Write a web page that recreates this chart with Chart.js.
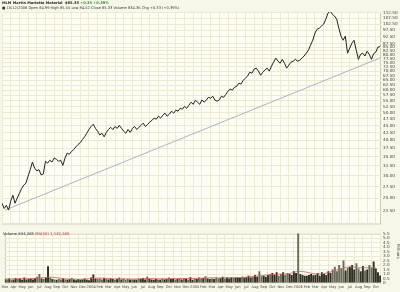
<!DOCTYPE html>
<html>
<head>
<meta charset="utf-8">
<script src="https://cdn.jsdelivr.net/npm/chart.js@4.4.0/dist/chart.umd.min.js"></script>
<style>
  body { margin: 0; width: 400px; height: 292px; overflow: hidden; position: relative;
         background: #f7f7e9; font-family: "DejaVu Sans", sans-serif; }
  canvas { position: absolute; left: 0; }
  #price { top: 0; }
  #volume { top: 229px; }
  .txt { position: absolute; white-space: nowrap; font-size: 3.6px; color: #222; }
  .up { color: #1f9a1f; }
  .red { color: #c03030; }
</style>
</head>
<body>
<canvas id="price" width="400" height="229"></canvas>
<canvas id="volume" width="400" height="63"></canvas>
<div class="txt" style="left:2px;top:1px;font-weight:bold">MLM Martin Marietta Material &nbsp;$85.33 <span class="up">+0.33 +0.39%</span></div>
<div class="txt" style="left:2px;top:6px;color:#333">&#9632; 10/12/2006 Open 84.99 High 85.55 Low 84.52 Close 85.33 Volume 834.3K Chg +0.33 (+0.39%)</div>
<div class="txt" style="left:3px;top:231px;font-size:3.8px">Volume 834,265 <span class="red">MA(50) 1,142,280</span></div>
<script>
// Month labels, Mar 2003 .. Oct 2006 (Jan shown as year)
const monthLabels = ['Mar','Apr','May','Jun','Jul','Aug','Sep','Oct','Nov','Dec',
  '2004','Feb','Mar','Apr','May','Jun','Jul','Aug','Sep','Oct','Nov','Dec',
  '2005','Feb','Mar','Apr','May','Jun','Jul','Aug','Sep','Oct','Nov','Dec',
  '2006','Feb','Mar','Apr','May','Jun','Jul','Aug','Sep','Oct'];

// Weekly closes (4 per month, starting Mar 2003)
const closes = [
  24.0, 23.0, 23.6, 22.7, 24.4, 25.6, 24.0, 25.0, 26.0, 27.0,
  27.8, 28.2, 29.9, 31.5, 33.5, 31.9, 31.2, 31.5, 30.2, 30.4,
  33.7, 33.2, 34.0, 33.5, 34.6, 34.3, 33.7, 34.0, 32.6, 34.6,
  36.0, 35.7, 36.5, 37.1, 37.9, 38.6, 39.2, 40.2, 41.1, 42.3,
  43.6, 44.7, 45.5, 44.0, 43.0, 41.7, 42.3, 41.1, 42.6, 43.6,
  44.4, 43.6, 44.7, 44.0, 45.1, 44.0, 43.0, 42.3, 43.6, 42.6,
  44.0, 44.7, 43.6, 44.4, 45.1, 45.9, 44.7, 45.5, 46.3, 47.0,
  47.8, 47.4, 48.6, 47.8, 49.0, 49.8, 48.6, 49.4, 50.6, 49.8,
  51.0, 50.6, 51.8, 51.4, 52.6, 51.8, 53.1, 54.4, 53.5, 55.3,
  54.4, 53.5, 55.4, 54.4, 55.3, 56.6, 56.2, 57.1, 55.3, 54.9,
  55.4, 57.1, 56.6, 58.0, 59.5, 60.5, 60.0, 61.4, 61.9, 63.5,
  63.0, 65.0, 66.1, 67.2, 69.4, 68.8, 71.1, 71.7, 70.0, 67.7,
  69.4, 70.6, 71.7, 70.0, 72.9, 75.3, 77.7, 75.9, 74.6, 77.0,
  74.6, 71.7, 73.5, 75.3, 75.9, 77.0, 75.9, 76.4, 77.7, 79.1,
  80.9, 82.9, 86.4, 89.9, 95.2, 98.3, 99.1, 100.8, 102.4, 106.6,
  112.0, 113.8, 111.0, 109.3, 106.6, 99.1, 92.9, 89.9, 92.9, 80.9,
  84.3, 87.8, 89.9, 82.9, 77.0, 80.2, 80.9, 79.1, 82.2, 80.2,
  77.0, 80.6, 81.6, 85.1, 85.3
];

// Weekly volume peaks, millions
const volumes = [
  0.45, 0.4, 0.5, 0.35, 0.4, 0.55, 0.45, 0.5, 0.35, 0.6,
  0.4, 0.45, 0.5, 0.4, 0.55, 0.7, 1.0, 0.5, 0.45, 0.6,
  1.85, 0.6, 0.45, 0.4, 0.35, 0.45, 0.4, 0.5, 0.4, 0.35,
  0.45, 0.55, 0.4, 0.3, 0.45, 0.35, 0.4, 0.5, 0.35, 0.3,
  0.6, 0.95, 0.5, 0.45, 0.5, 0.4, 0.55, 0.45, 0.4, 0.5,
  0.45, 0.35, 0.45, 0.6, 0.4, 0.5, 0.35, 0.45, 0.4, 0.35,
  0.4, 0.35, 0.5, 0.45, 0.55, 0.4, 0.7, 0.45, 0.4, 0.35,
  0.45, 0.4, 0.35, 0.5, 0.4, 0.45, 0.6, 0.45, 0.5, 0.4,
  0.45, 0.55, 0.4, 0.5, 0.5, 0.4, 0.65, 0.35, 0.5, 0.45,
  0.6, 0.5, 0.55, 0.75, 0.5, 0.45, 0.5, 0.45, 0.6, 0.5,
  0.55, 0.7, 0.5, 0.6, 0.5, 0.65, 0.55, 0.6, 0.6, 0.55,
  0.7, 0.6, 0.65, 0.8, 0.6, 0.7, 0.9, 0.7, 1.3, 0.75,
  0.8, 0.7, 0.9, 1.0, 1.1, 0.9, 1.2, 0.8, 1.0, 1.2,
  0.9, 1.1, 1.0, 0.9, 1.3, 1.1, 6.0, 1.0, 0.9, 0.8,
  0.8, 0.9, 1.0, 0.85, 0.9, 1.1, 0.8, 1.2, 1.0, 0.9,
  1.3, 1.1, 1.5, 1.8, 1.3, 2.0, 1.6, 2.5, 1.4, 1.7,
  1.8, 2.0, 1.5, 2.2, 1.6, 1.3, 1.9, 1.4, 1.5, 2.0,
  1.7, 2.4, 1.6, 1.2, 0.83
];

// 50-day volume average, one reading per month, millions
const volumeMA = [
  0.45, 0.45, 0.47, 0.48, 0.55, 0.65, 0.6, 0.45, 0.42, 0.4,
  0.5, 0.55, 0.5, 0.45, 0.45, 0.42, 0.48, 0.5, 0.45, 0.47, 0.5, 0.5,
  0.52, 0.55, 0.58, 0.57, 0.6, 0.6, 0.65, 0.75, 0.85, 0.95, 1.0, 1.05,
  1.3, 1.2, 1.0, 1.05, 1.3, 1.6, 1.8, 1.7, 1.7, 1.7
];

// Support trend line end points (month, price)
const trendX = [0.35, 43.6];
const trendY = [22.7, 78.1];

const priceTicks = [22.5, 25, 27.5, 30, 32.5, 35, 37.5, 40, 42.5, 45, 47.5, 50, 52.5,
  55, 57.5, 60, 62.5, 65, 67.5, 70, 72.5, 75, 77.5, 80, 82.5, 85, 87.5,
  92.5, 97.5, 102.5, 107.5, 112.5];
const volumeTicks = [0, 0.5, 1, 1.5, 2, 2.5, 3, 3.5, 4, 4.5, 5, 5.5];

const gridColor = '#ece9d4';
const axisFont = { family: 'DejaVu Sans', size: 4.2 };
const xFont = { family: 'DejaVu Sans', size: 3.6 };
const xMax = 43.6;

const plotBackground = {
  id: 'plotBackground',
  beforeDraw(chart) {
    const { ctx, chartArea: a } = chart;
    ctx.save();
    ctx.fillStyle = '#fdfdf3';
    ctx.fillRect(a.left, a.top, a.right - a.left, a.bottom - a.top);
    ctx.strokeStyle = '#cfcbb2';
    ctx.lineWidth = 1;
    ctx.strokeRect(a.left + 0.5, a.top + 0.5, a.right - a.left - 1, a.bottom - a.top - 1);
    ctx.restore();
  }
};

const monthTicks = axis => { axis.ticks = monthLabels.map((_, i) => ({ value: i })); };

new Chart(document.getElementById('price'), {
  type: 'line',
  data: {
    datasets: [
      {
        data: closes.map((v, i) => ({ x: i / 4, y: v })),
        borderColor: '#222',
        borderWidth: 1,
        pointRadius: 0,
        tension: 0
      },
      {
        data: trendX.map((x, i) => ({ x: x, y: trendY[i] })),
        borderColor: '#aab4c6',
        borderWidth: 1,
        pointRadius: 0
      }
    ]
  },
  options: {
    responsive: false,
    animation: false,
    layout: { padding: { left: 2, top: 12, right: 0, bottom: 1 } },
    plugins: { legend: { display: false }, tooltip: { enabled: false } },
    scales: {
      x: {
        type: 'linear', min: 0, max: xMax,
        afterBuildTicks: monthTicks,
        ticks: { display: false },
        grid: { color: gridColor, drawTicks: false },
        border: { display: false },
        afterFit: s => { s.height = 0; }
      },
      y: {
        type: 'logarithmic', position: 'right', min: 20.2, max: 113,
        afterBuildTicks: axis => { axis.ticks = priceTicks.map(v => ({ value: v })); },
        ticks: { font: axisFont, color: '#444', padding: 2, autoSkip: false,
                 callback: v => v.toFixed(2) },
        grid: { color: gridColor, drawTicks: false },
        border: { display: false },
        afterFit: s => { s.width = 19; }
      }
    }
  },
  plugins: [plotBackground]
});

const barColors = volumes.map((v, i) => (i > 0 && closes[i] < closes[i - 1]) ? '#6b6b5a' : '#2e2e22');

new Chart(document.getElementById('volume'), {
  data: {
    datasets: [
      {
        type: 'line',
        data: volumeMA.map((v, i) => ({ x: i, y: v })),
        borderColor: '#d06060',
        borderWidth: 0.8,
        pointRadius: 0,
        tension: 0.3,
        order: 1
      },
      {
        type: 'bar',
        data: volumes.map((v, i) => ({ x: i / 4, y: v })),
        backgroundColor: barColors,
        barPercentage: 0.9,
        categoryPercentage: 1,
        order: 2
      }
    ]
  },
  options: {
    responsive: false,
    animation: false,
    layout: { padding: { left: 2, top: 1, right: 0, bottom: 0 } },
    plugins: { legend: { display: false }, tooltip: { enabled: false } },
    scales: {
      x: {
        type: 'linear', min: 0, max: xMax, offset: false,
        afterBuildTicks: monthTicks,
        ticks: { font: xFont, color: '#444', padding: 1.5, maxRotation: 0, autoSkip: false,
                 callback: v => monthLabels[v] },
        grid: { color: gridColor, drawTicks: false },
        border: { display: false },
        afterFit: s => { s.height = 9; }
      },
      y: {
        position: 'right', min: 0, max: 5.5,
        afterBuildTicks: axis => { axis.ticks = volumeTicks.map(v => ({ value: v })); },
        ticks: { font: axisFont, color: '#444', padding: 2, autoSkip: false },
        grid: { color: gridColor, drawTicks: false },
        border: { display: false },
        afterFit: s => { s.width = 19; }
      }
    }
  },
  plugins: [plotBackground, {
    id: 'millions',
    afterDraw(chart) {
      const ctx = chart.ctx;
      ctx.save();
      ctx.translate(397, 22);
      ctx.rotate(Math.PI / 2);
      ctx.font = '4px "DejaVu Sans"';
      ctx.fillStyle = '#444';
      ctx.textAlign = 'center';
      ctx.fillText('Millions', 0, 0);
      ctx.restore();
    }
  }]
});
</script>
</body>
</html>
